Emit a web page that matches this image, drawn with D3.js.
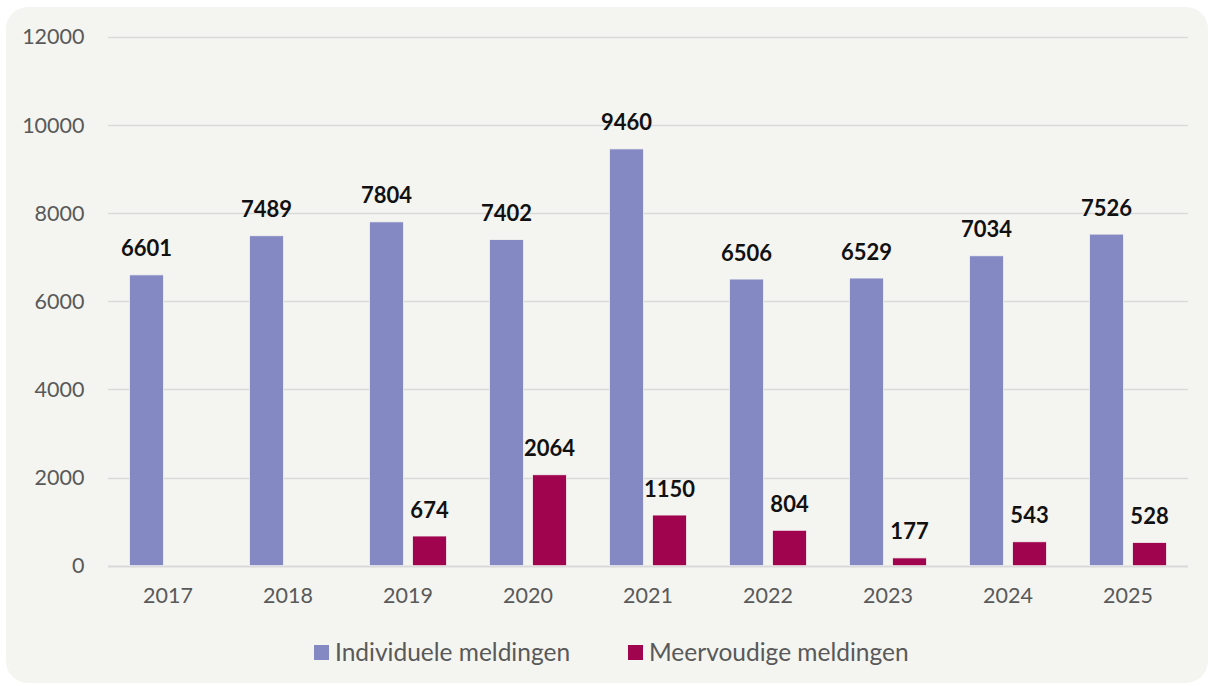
<!DOCTYPE html>
<html>
<head>
<meta charset="utf-8">
<script src="https://cdn.jsdelivr.net/npm/d3@7"></script>
<style>
  html, body { margin: 0; padding: 0; background: #ffffff; }
  #chart { width: 1212px; height: 686px; }
</style>
</head>
<body>
<div id="chart"></div>
<script>
const years = ["2017", "2018", "2019", "2020", "2021", "2022", "2023", "2024", "2025"];
const individueel = [6601, 7489, 7804, 7402, 9460, 6506, 6529, 7034, 7526];
const meervoudig = [null, null, 674, 2064, 1150, 804, 177, 543, 528];
const seriesNames = ["Individuele meldingen", "Meervoudige meldingen"];
const seriesColors = ["#8489c4", "#a0044f"];
const yTicks = [0, 2000, 4000, 6000, 8000, 10000, 12000];

const width = 1212;
const height = 686;
const margin = { top: 37, right: 24, bottom: 120, left: 108 };
const fontFam = "Lato, 'Open Sans', sans-serif";

const svg = d3.select("#chart")
    .append("svg")
    .attr("width", width)
    .attr("height", height);

// panel background
svg.append("rect")
    .attr("x", 6)
    .attr("y", 7)
    .attr("width", width - 10)
    .attr("height", height - 10)
    .attr("rx", 22)
    .attr("fill", "#f4f4f0");

const x0 = d3.scaleBand()
    .domain(years)
    .range([margin.left, width - margin.right])
    .paddingInner(0.358)
    .paddingOuter(0.179);

const x1 = d3.scaleBand()
    .domain([0, 1])
    .range([0, x0.bandwidth()])
    .paddingInner(0.21);

const y = d3.scaleLinear()
    .domain([0, 12000])
    .range([height - margin.bottom - 0.3, margin.top]);

// gridlines
svg.append("g")
    .selectAll("line")
    .data(yTicks)
    .enter()
    .append("line")
    .attr("x1", margin.left)
    .attr("x2", width - margin.right)
    .attr("y1", d => Math.round(y(d)) + 0.5)
    .attr("y2", d => Math.round(y(d)) + 0.5)
    .attr("stroke", "#d9d9d9")
    .attr("stroke-width", d => d === 0 ? 2 : 1.5);

// y tick labels
const yAxis = svg.append("g")
    .attr("transform", `translate(${margin.left - 23.5},0)`)
    .call(d3.axisLeft(y).tickValues(yTicks).tickSize(0).tickPadding(0).tickFormat(d3.format("d")));
yAxis.select(".domain").remove();
yAxis.selectAll("text")
    .style("font-family", fontFam)
    .style("font-size", "21.5px")
    .attr("fill", "#595959");

// x tick labels
const xAxis = svg.append("g")
    .attr("transform", `translate(0,${y(0)})`)
    .call(d3.axisBottom(x0).tickSize(0).tickPadding(22));
xAxis.select(".domain").remove();
xAxis.selectAll("text")
    .style("font-family", fontFam)
    .style("font-size", "21.5px")
    .attr("fill", "#595959");

const rows = years.map((yr, i) => ({ year: yr, values: [individueel[i], meervoudig[i]] }));

const groups = svg.append("g")
    .selectAll("g")
    .data(rows)
    .enter()
    .append("g")
    .attr("transform", d => `translate(${x0(d.year)},0)`);

const cells = groups.selectAll("g")
    .data(d => d.values.map((v, k) => ({ k, v })).filter(e => e.v !== null))
    .enter()
    .append("g");

cells.append("rect")
    .attr("x", d => x1(d.k))
    .attr("y", d => y(d.v))
    .attr("width", x1.bandwidth())
    .attr("height", d => y(0) - y(d.v))
    .attr("fill", d => seriesColors[d.k])
    .attr("stroke", "#f4f4f0")
    .attr("stroke-width", 0.8);

cells.append("text")
    .attr("x", d => x1(d.k) + x1.bandwidth() / 2)
    .attr("y", d => y(d.v) - 18.5)
    .attr("text-anchor", "middle")
    .style("font-family", fontFam)
    .style("font-size", "22px")
    .style("font-weight", "bold")
    .attr("fill", "#111111")
    .text(d => d.v);

// legend
const legendX = [314, 628];
const legend = svg.append("g")
    .selectAll("g")
    .data(seriesNames)
    .enter()
    .append("g")
    .attr("transform", (d, i) => `translate(${legendX[i]},652)`);

legend.append("rect")
    .attr("x", 0)
    .attr("y", -7)
    .attr("width", 15)
    .attr("height", 15)
    .attr("fill", (d, i) => seriesColors[i]);

legend.append("text")
    .attr("x", 21)
    .attr("y", 0)
    .attr("dy", "0.35em")
    .style("font-family", fontFam)
    .style("font-size", "24.5px")
    .attr("fill", "#595959")
    .text(d => d);
</script>
</body>
</html>
